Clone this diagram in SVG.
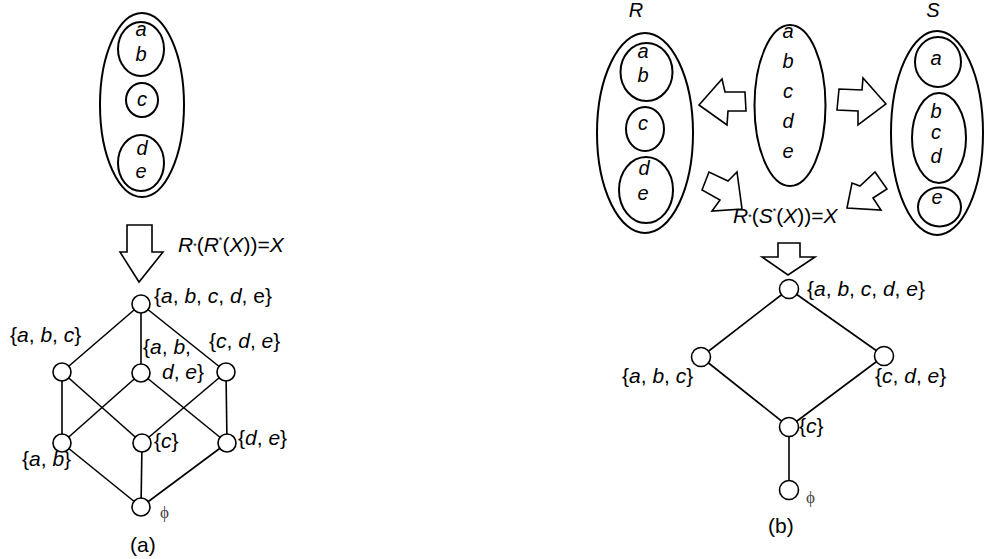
<svg xmlns="http://www.w3.org/2000/svg" width="984" height="559" viewBox="0 0 984 559">
<style>
.t{font-family:"Liberation Sans",Arial,sans-serif;font-size:21px;fill:#000}
.e{font-family:"Liberation Sans",Arial,sans-serif;font-size:20px;font-style:italic;fill:#000;text-anchor:middle}
.i{font-style:italic}
.phi{font-family:"Liberation Serif","Times New Roman",serif;font-size:17px;fill:#444}
.set{fill:none;stroke:#000;stroke-width:2}
.node{fill:#fff;stroke:#000;stroke-width:1.6}
.edge{stroke:#000;stroke-width:1.6;fill:none}
.arrow{fill:#fff;stroke:#000;stroke-width:1.6;stroke-linejoin:miter}
</style>
<rect width="984" height="559" fill="#fff"/>

<!-- (a) partition -->
<g id="partition-a">
<ellipse class="set" cx="142" cy="105" rx="42" ry="92"/>
<ellipse class="set" cx="141" cy="49" rx="23" ry="27"/>
<ellipse class="set" cx="142" cy="100" rx="16" ry="17"/>
<ellipse class="set" cx="141" cy="163" rx="23" ry="28"/>
<text class="e" x="141" y="36">a</text>
<text class="e" x="141" y="61">b</text>
<text class="e" x="142" y="106">c</text>
<text class="e" x="142" y="155">d</text>
<text class="e" x="141" y="178">e</text>
</g>
<g id="arrow-a">
<polygon class="arrow" points="127,225 152,225 152,252 163,252 139,282 120,252 127,252"/>
<text class="t" x="178" y="252"><tspan class="i">R</tspan><tspan font-size="9" dy="-3">*</tspan><tspan dy="3">(</tspan><tspan class="i">R</tspan><tspan font-size="9" dy="-9">*</tspan><tspan dy="9">(</tspan><tspan class="i">X</tspan>))=<tspan class="i">X</tspan></text>
</g>

<!-- (a) lattice connectors -->
<g id="connectors-a">
<line class="edge" x1="141" y1="304" x2="62" y2="372"/>
<line class="edge" x1="141" y1="304" x2="141" y2="373"/>
<line class="edge" x1="141" y1="304" x2="226" y2="372"/>
<line class="edge" x1="62" y1="372" x2="62" y2="443"/>
<line class="edge" x1="62" y1="372" x2="142" y2="443"/>
<line class="edge" x1="141" y1="373" x2="62" y2="443"/>
<line class="edge" x1="141" y1="373" x2="227" y2="443"/>
<line class="edge" x1="226" y1="372" x2="142" y2="443"/>
<line class="edge" x1="226" y1="372" x2="227" y2="443"/>
<line class="edge" x1="62" y1="443" x2="141" y2="507"/>
<line class="edge" x1="142" y1="443" x2="141" y2="507"/>
<line class="edge" x1="227" y1="443" x2="141" y2="507"/>
</g>
<g id="a-top"><circle class="node" cx="141" cy="304" r="9"/><text class="t" x="154" y="303">{<tspan class="i">a</tspan>, <tspan class="i">b</tspan>, <tspan class="i">c</tspan>, <tspan class="i">d</tspan>, e}</text></g>
<g id="a-abc"><circle class="node" cx="62" cy="372" r="9"/><text class="t" x="10" y="342">{<tspan class="i">a</tspan>, <tspan class="i">b</tspan>, <tspan class="i">c</tspan>}</text></g>
<g id="a-abde"><circle class="node" cx="141" cy="373" r="9"/><text class="t" x="143" y="354">{<tspan class="i">a</tspan>, <tspan class="i">b</tspan>,</text><text class="t" x="162" y="379"><tspan class="i">d</tspan>, <tspan class="i">e</tspan>}</text></g>
<g id="a-cde"><circle class="node" cx="226" cy="372" r="9"/><text class="t" x="209" y="348">{<tspan class="i">c</tspan>, <tspan class="i">d</tspan>, <tspan class="i">e</tspan>}</text></g>
<g id="a-ab"><circle class="node" cx="62" cy="443" r="9"/><text class="t" x="22" y="466">{<tspan class="i">a</tspan>, <tspan class="i">b</tspan>}</text></g>
<g id="a-c"><circle class="node" cx="142" cy="443" r="9"/><text class="t" x="154" y="448">{<tspan class="i">c</tspan>}</text></g>
<g id="a-de"><circle class="node" cx="227" cy="443" r="9"/><text class="t" x="238" y="445">{<tspan class="i">d</tspan>, <tspan class="i">e</tspan>}</text></g>
<g id="a-empty"><circle class="node" cx="141" cy="507" r="9"/><text class="phi" x="160" y="518">ϕ</text></g>
<text class="t" x="130" y="552">(a)</text>

<!-- (b) partitions -->
<g id="partition-R">
<text class="e" x="636" y="17" font-size="17">R</text>
<ellipse class="set" cx="645" cy="133" rx="48" ry="100"/>
<ellipse class="set" cx="646.5" cy="72" rx="26" ry="29"/>
<ellipse class="set" cx="645" cy="129" rx="19" ry="22"/>
<ellipse class="set" cx="646" cy="190" rx="27" ry="33"/>
<text class="e" x="643" y="58">a</text>
<text class="e" x="643" y="82">b</text>
<text class="e" x="643" y="130">c</text>
<text class="e" x="644" y="175">d</text>
<text class="e" x="643" y="200">e</text>
</g>
<g id="universe">
<ellipse class="set" cx="790" cy="105.5" rx="35.5" ry="80.5"/>
<text class="e" x="788" y="38">a</text>
<text class="e" x="788" y="68">b</text>
<text class="e" x="788" y="98">c</text>
<text class="e" x="788" y="128">d</text>
<text class="e" x="788" y="158">e</text>
</g>
<g id="partition-S">
<text class="e" x="933" y="17" font-size="17">S</text>
<ellipse class="set" cx="937" cy="133" rx="46" ry="102"/>
<ellipse class="set" cx="938" cy="62" rx="23" ry="25"/>
<ellipse class="set" cx="939" cy="138" rx="27" ry="45"/>
<ellipse class="set" cx="939.5" cy="207" rx="21.5" ry="19.5"/>
<text class="e" x="936" y="65">a</text>
<text class="e" x="936" y="118">b</text>
<text class="e" x="936" y="139">c</text>
<text class="e" x="936" y="163">d</text>
<text class="e" x="937" y="204">e</text>
</g>
<g id="arrows-b">
<polygon class="arrow" points="699,105 722,79 725,92 745,92 746,111 728,111 727,125"/>
<polygon class="arrow" points="886,104 863,78 862,90 839,89 837,110 858,111 858,125"/>
<polygon class="arrow" points="702,190 709,172 728,181 737,172 742,209 712,211 720,200"/>
<polygon class="arrow" points="847,208 852,183 860,186 875,172 887,189 873,198 881,210"/>
<polygon class="arrow" points="778,243 800,243 800,257 815,257 788,275 762,257 778,257"/>
<text class="t" x="733" y="223"><tspan class="i">R</tspan><tspan font-size="9" dy="-3">*</tspan><tspan dy="3">(</tspan><tspan class="i">S</tspan><tspan font-size="9" dy="-9">*</tspan><tspan dy="9">(</tspan><tspan class="i">X</tspan>))=<tspan class="i">X</tspan></text>
</g>

<!-- (b) lattice connectors -->
<g id="connectors-b">
<line class="edge" x1="789" y1="289" x2="701" y2="357"/>
<line class="edge" x1="789" y1="289" x2="884" y2="356"/>
<line class="edge" x1="701" y1="357" x2="789" y2="427"/>
<line class="edge" x1="884" y1="356" x2="789" y2="427"/>
<line class="edge" x1="789" y1="427" x2="789" y2="490"/>
</g>
<g id="b-top"><circle class="node" cx="789" cy="289" r="9.5"/><text class="t" x="807" y="296">{<tspan class="i">a</tspan>, <tspan class="i">b</tspan>, <tspan class="i">c</tspan>, <tspan class="i">d</tspan>, <tspan class="i">e</tspan>}</text></g>
<g id="b-abc"><circle class="node" cx="701" cy="357" r="9.5"/><text class="t" x="622" y="383">{<tspan class="i">a</tspan>, <tspan class="i">b</tspan>, <tspan class="i">c</tspan>}</text></g>
<g id="b-cde"><circle class="node" cx="884" cy="356" r="9.5"/><text class="t" x="875" y="383">{<tspan class="i">c</tspan>, <tspan class="i">d</tspan>, <tspan class="i">e</tspan>}</text></g>
<g id="b-c"><circle class="node" cx="789" cy="427" r="9.5"/><text class="t" x="799" y="433">{<tspan class="i">c</tspan>}</text></g>
<g id="b-empty"><circle class="node" cx="789" cy="490" r="9.5"/><text class="phi" x="806" y="503">ϕ</text></g>
<text class="t" x="768" y="533">(b)</text>
</svg>
